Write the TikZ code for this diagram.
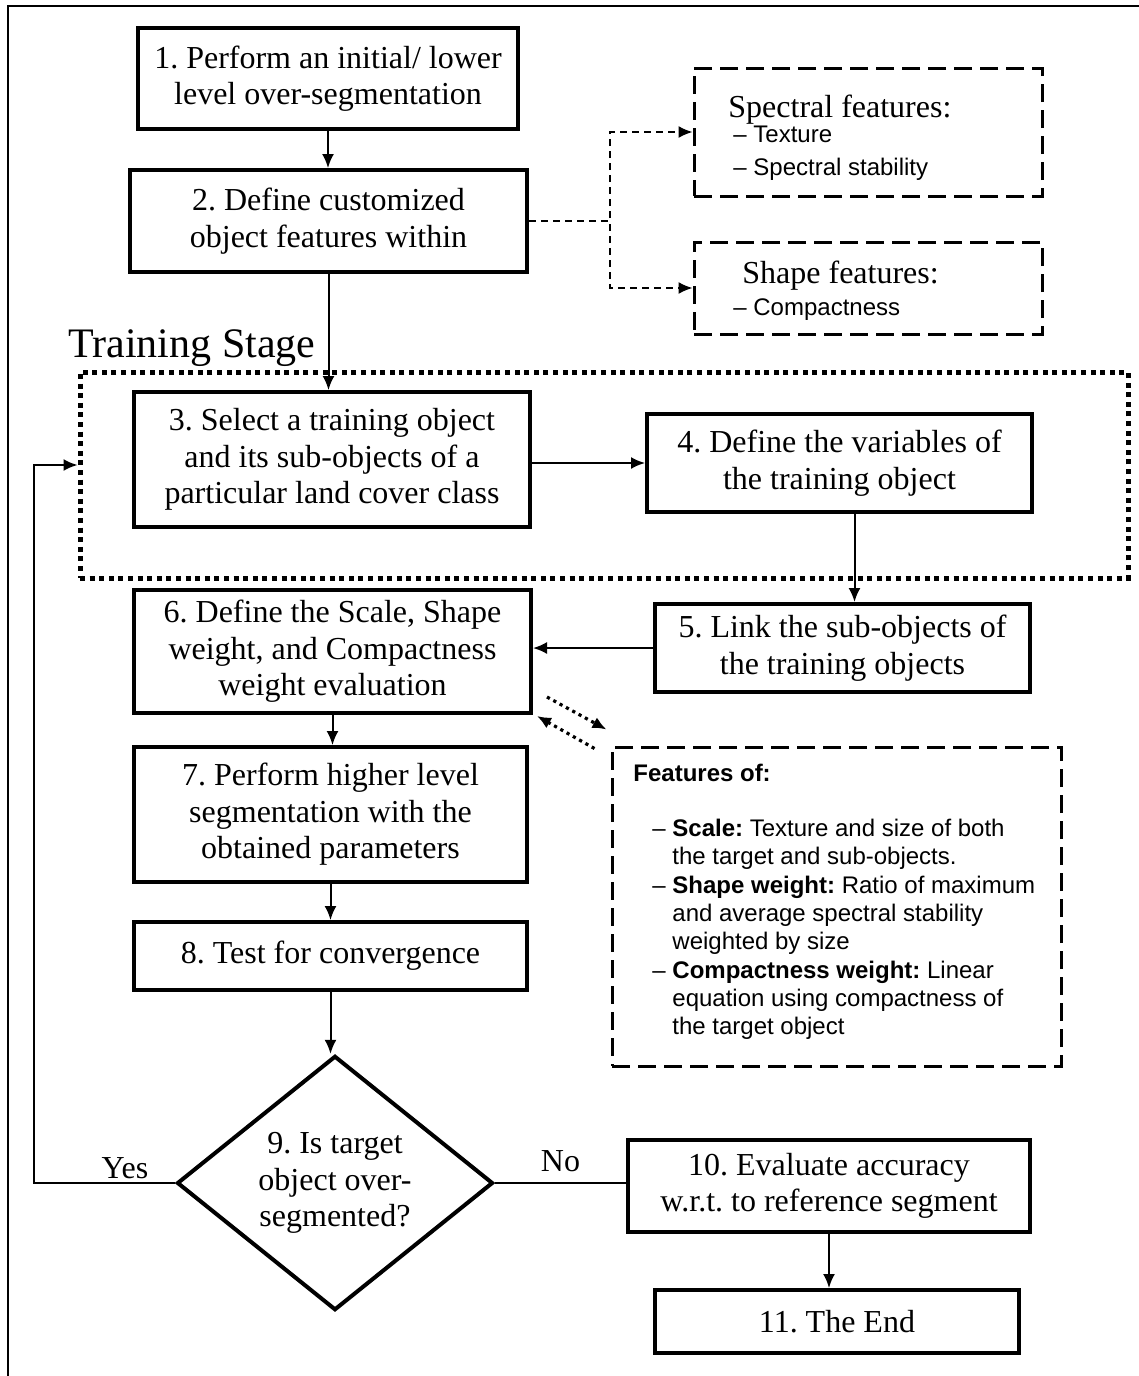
\documentclass[tikz,border=0pt]{standalone}
\usepackage{fontspec}
\setmainfont{Liberation Serif}
\setsansfont{Liberation Sans}
\frenchspacing
\usetikzlibrary{shapes.geometric,arrows.meta,calc}
\tikzset{
  proc/.style={draw, line width=2pt, align=center, inner sep=0pt,
    font=\fontsize{16}{18.3}\selectfont},
  decide/.style={proc, diamond, minimum width=158pt, minimum height=116.5pt},
  dbox/.style={draw, line width=1.5pt, dash pattern=on 9pt off 4pt, inner sep=0pt},
  trainbox/.style={draw, line width=2.5pt, dash pattern=on 2.5pt off 2.3pt, inner sep=0pt},
  arr/.style={line width=1pt, -{Latex[length=7pt,width=6pt]}},
  darr/.style={line width=0.8pt, dash pattern=on 3.5pt off 2.5pt,
    -{Latex[length=7pt,width=6pt]}},
  dotarr/.style={line width=1.6pt, dash pattern=on 1.6pt off 2pt,
    -{Latex[length=7pt,width=6pt]}},
  smalltxt/.style={inner sep=0pt, font=\sffamily\fontsize{12}{14.15}\selectfont},
  lbl/.style={inner sep=0pt, font=\fontsize{16}{18.3}\selectfont}
}
\begin{document}
    \begin{tikzpicture}[x=0.5pt, y=-0.5pt]
      \useasboundingbox (0,0) rectangle (1139,1376);
      \draw[line width=1pt] (8,1390) |- (1150,6);
      % main steps
      \node[proc, minimum width=190pt, minimum height=50.5pt] (b1) at (328,78.5)
        {1. Perform an initial/ lower\\level over-segmentation};
      \node[proc, minimum width=198.5pt, minimum height=51pt] (b2) at (328.5,221)
        {2. Define customized\\object features within};
      \node[trainbox, minimum width=524pt, minimum height=103pt] (train) at (604,475) {};
      \node[lbl, anchor=base west, font=\fontsize{21}{24}\selectfont] (stage) at (68,357)
        {Training Stage};
      \node[proc, minimum width=198pt, minimum height=67.5pt] (b3) at (332,459.5)
        {3. Select a training object\\and its sub-objects of a\\particular land cover class};
      \node[proc, minimum width=192.5pt, minimum height=49pt] (b4) at (839.5,463)
        {4. Define the variables of\\the training object};
      \node[proc, minimum width=187.5pt, minimum height=44pt] (b5) at (842.5,648)
        {5. Link the sub-objects of\\the training objects};
      \node[proc, minimum width=198.5pt, minimum height=61.5pt] (b6) at (332.5,651.5)
        {6. Define the Scale, Shape\\weight, and Compactness\\weight evaluation};
      \node[proc, minimum width=196.5pt, minimum height=67.5pt] (b7) at (330.5,814.5)
        {7. Perform higher level\\segmentation with the\\obtained parameters};
      \node[proc, minimum width=196.5pt, minimum height=34pt] (b8) at (330.5,956)
        {8. Test for convergence};
      \node[decide] (d9) at (335,1183) {9. Is target\\object over-\\segmented?};
      \node[proc, minimum width=201pt, minimum height=46pt] (b10) at (829,1186)
        {10. Evaluate accuracy\\w.r.t. to reference segment};
      \node[proc, minimum width=182pt, minimum height=31.5pt] (b11) at (837,1321.5)
        {11. The End};
      % feature boxes
      \node[dbox, minimum width=174pt, minimum height=64pt] (spec) at (868,132) {};
      \node[smalltxt, anchor=base west] (spectxt) at (728,117.5)
        {\begin{tabular}[t]{@{}l@{}}
          {\rmfamily\fontsize{16}{18.3}\selectfont Spectral features:}\\[-1.5pt]
          \hspace{2.5pt}– Texture\\[2pt]
          \hspace{2.5pt}– Spectral stability
        \end{tabular}};
      \node[dbox, minimum width=174pt, minimum height=46pt] (shape) at (868,288) {};
      \node[smalltxt, anchor=base west] (shapetxt) at (733,283)
        {\begin{tabular}[t]{@{}l@{}}
          \hspace{4.5pt}{\rmfamily\fontsize{16}{18.3}\selectfont Shape features:}\\[2pt]
          – Compactness
        \end{tabular}};
      \node[dbox, minimum width=224.5pt, minimum height=159.5pt] (feat) at (836.5,906.5) {};
      \node[smalltxt, anchor=base west] (feattxt) at (633,781.6)
        {\begin{tabular}[t]{@{}l@{ }l@{}}
          \multicolumn{2}{@{}l}{\textbf{Features of:}}\\[13.3pt]
          \hspace{9.5pt}– & \textbf{Scale:} Texture and size of both\\
          & the target and sub-objects.\\
          \hspace{9.5pt}– & \textbf{Shape weight:} Ratio of maximum\\
          & and average spectral stability\\
          & weighted by size\\
          \hspace{9.5pt}– & \textbf{Compactness weight:} Linear\\
          & equation using compactness of\\
          & the target object
        \end{tabular}};
      \coordinate (loop) at (34,465);
      % connectors
      \draw[arr] (b1.south) -- (b1.south |- b2.north);
      \draw[arr] (b2.south) -- (b2.south |- b3.north);
      \draw[arr] (b3.east |- b4) -- (b4.west);
      \draw[arr] ([xshift=7.5pt]b4.south) -- ([xshift=7.5pt]b4.south |- b5.north);
      \draw[arr] (b5.west) -- (b5.west -| b6.east);
      \draw[arr] (b6.south) -- (b6.south |- b7.north);
      \draw[arr] (b7.south) -- (b7.south |- b8.north);
      \draw[arr] (b8.south) -- (b8.south |- d9.north);
      \draw[arr] (b10.south) -- (b10.south |- b11.north);
      \draw[line width=1pt] (d9.east) -- (d9.east -| b10.west)
        node[lbl, midway, above=5pt] (no) {No};
      \draw[arr] (d9.west) -| (loop) -- (loop -| train.west);
      \node[lbl] (yes) at (125,1168) {Yes};
      \draw[darr] (b2.east) -- ++(81,0) |- (spec.west);
      \draw[darr] (b2.east) -- ++(81,0) |- (shape.west);
      \draw[dotarr] ($(b6.south east)+(14,-18)$) -- ($(feat.north west)+(-4,-16)$);
      \draw[dotarr] ($(feat.north west)+(-16,3)$) -- ($(b6.south east)+(4,1)$);
    \end{tikzpicture}
\end{document}
